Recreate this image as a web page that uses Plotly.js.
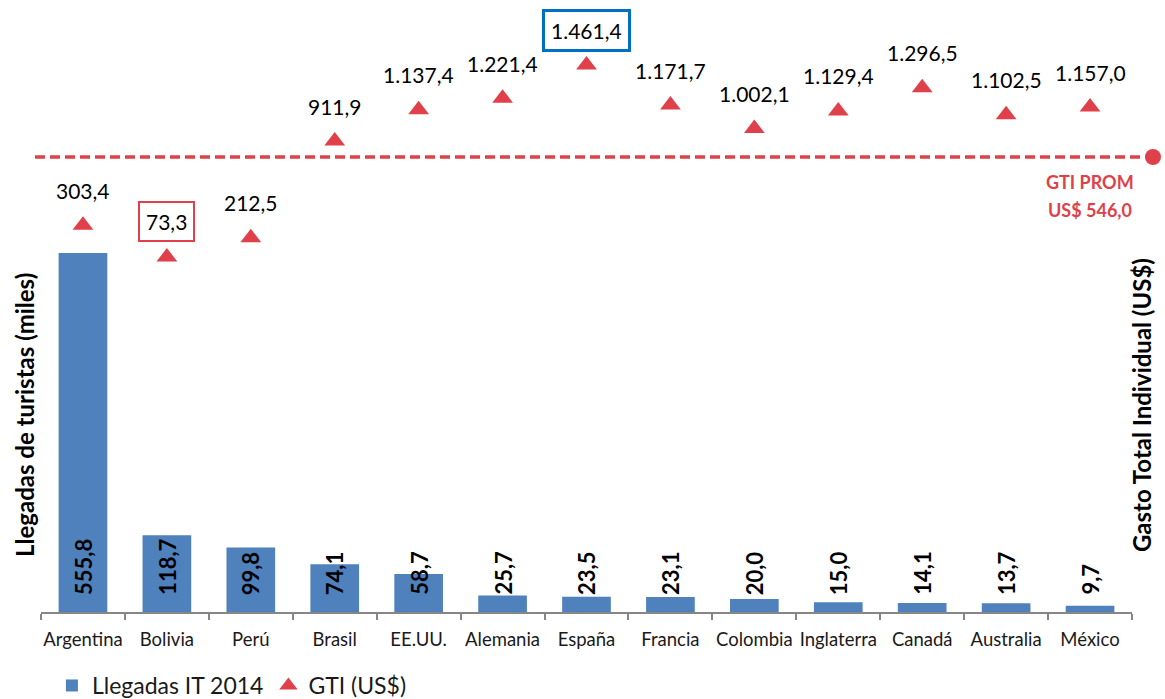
<!DOCTYPE html>
<html>
<head>
<meta charset="utf-8">
<script src="https://cdn.plot.ly/plotly-3.0.1.min.js"></script>
<style>html,body{margin:0;padding:0;background:#fff;}#chart{width:1165px;height:699px;}</style>
</head>
<body>
<div id="chart"></div>
<script>
const categories = ['Argentina','Bolivia','Perú','Brasil','EE.UU.','Alemania','España','Francia','Colombia','Inglaterra','Canadá','Australia','México'];
const llegadas = [555.8,118.7,99.8,74.1,58.7,25.7,23.5,23.1,20.0,15.0,14.1,13.7,9.7];
const gti = [303.4,73.3,212.5,911.9,1137.4,1221.4,1461.4,1171.7,1002.1,1129.4,1296.5,1102.5,1157.0];
const gtiProm = 546.0;
const seriesNames = ['Llegadas IT 2014','GTI (US$)'];
const axisTitles = ['Llegadas de turistas (miles)','Gasto Total Individual (US$)'];

function fmt(v){
  const parts = v.toFixed(1).split('.');
  const intPart = parts[0].replace(/\B(?=(\d{3})+(?!\d))/g,'.');
  return intPart + ',' + parts[1];
}

const FONT = 'Lato, "Open Sans", sans-serif';
const RED = '#E0404A';
const BLUE = '#4F81BD';

const minIdx = gti.indexOf(Math.min(...gti));
const maxIdx = gti.indexOf(Math.max(...gti));

const traces = [
  {
    type:'bar', name: seriesNames[0], x: categories, y: llegadas,
    marker:{color: BLUE}, hoverinfo:'skip'
  },
  {
    type:'scatter', mode:'markers', name: seriesNames[1], x: categories, y: gti, yaxis:'y2',
    marker:{symbol:'triangle-up', size:18, color: RED}, cliponaxis:false, hoverinfo:'skip'
  }
];

const annotations = [];
categories.forEach((c,i)=>{
  annotations.push({
    x: c, y: 0, xref:'x', yref:'y', text: fmt(llegadas[i]), showarrow:false,
    textangle:-90, yanchor:'bottom', xanchor:'center', yshift:15,
    font:{family:FONT, size:22, color:'#000', weight:'bold'}
  });
});
categories.forEach((c,i)=>{
  const a = {
    x: c, y: gti[i], xref:'x', yref:'y2', text: fmt(gti[i]), showarrow:false,
    yanchor:'middle', xanchor:'center', yshift:35,
    font:{family:FONT, size:21, color:'#000'}
  };
  if(i===minIdx){ a.bordercolor = RED; a.borderwidth = 2; a.borderpad = 6; }
  if(i===maxIdx){ a.bordercolor = '#0070C0'; a.borderwidth = 3; a.borderpad = 6; }
  annotations.push(a);
});
annotations.push({
  xref:'paper', yref:'paper', x:-0.0147, y:0.3328, text: axisTitles[0], showarrow:false,
  textangle:-90, xanchor:'center', yanchor:'middle',
  font:{family:FONT, size:24, color:'#000', weight:'bold'}
});
annotations.push({
  xref:'paper', yref:'paper', x:1.0092, y:0.3497, text: axisTitles[1], showarrow:false,
  textangle:-90, xanchor:'center', yanchor:'middle',
  font:{family:FONT, size:24, color:'#000', weight:'bold'}
});
annotations.push({
  xref:'paper', yref:'paper', x:0.9615, y:(612-182)/592, text:'GTI PROM', showarrow:false,
  xanchor:'center', yanchor:'middle', font:{family:FONT, size:18, color:RED, weight:'bold'}
});
annotations.push({
  xref:'paper', yref:'paper', x:0.9615, y:(612-210)/592, text:'US$ ' + fmt(gtiProm), showarrow:false,
  xanchor:'center', yanchor:'middle', font:{family:FONT, size:18, color:RED, weight:'bold'}
});

const lineY = (612-157)/592;
const shapes = [
  {type:'line', xref:'paper', yref:'paper', x0:(35-41)/1091, x1:(1151-41)/1091, y0:lineY, y1:lineY,
   line:{color:RED, width:3.5, dash:'10px,5px'}},
  {type:'circle', xref:'paper', yref:'paper', xsizemode:'pixel', ysizemode:'pixel',
   xanchor:(1153-41)/1091, yanchor:lineY, x0:-8, x1:8, y0:-8, y1:8,
   fillcolor:RED, line:{width:0}}
];

const layout = {
  width:1165, height:699,
  margin:{l:41, r:33, t:20, b:87, autoexpand:false},
  paper_bgcolor:'#fff', plot_bgcolor:'#fff',
  bargap:0.42,
  showlegend:true,
  legend:{orientation:'h', x:0.01, xanchor:'left', y:-0.1605, yanchor:'bottom',
          font:{family:FONT, size:23, color:'#1a1a1a'}, traceorder:'normal'},
  xaxis:{type:'category', range:[-0.5,12.5], showline:true, linecolor:'#868686', linewidth:2,
         ticks:'outside', tickson:'boundaries', ticklen:6, tickwidth:2, tickcolor:'#868686',
         tickangle:0, ticklabelstandoff:10,
         tickfont:{family:FONT, size:18.5, color:'#1a1a1a'}, showgrid:false, fixedrange:true, automargin:false},
  yaxis:{range:[0,916.4], showticklabels:false, showgrid:false, zeroline:false, ticks:'', automargin:false},
  yaxis2:{range:[-2494,1787], overlaying:'y', side:'right', showticklabels:false, showgrid:false, zeroline:false, ticks:'', automargin:false},
  annotations: annotations,
  shapes: shapes
};

Plotly.newPlot('chart', traces, layout, {displayModeBar:false, staticPlot:true});
</script>
</body>
</html>
